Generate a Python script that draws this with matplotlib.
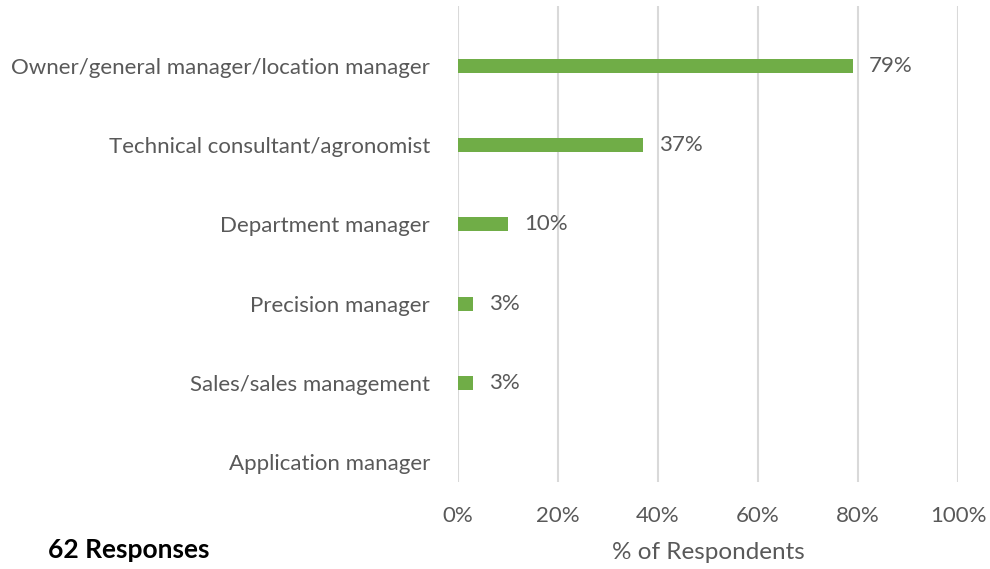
import matplotlib
matplotlib.use("Agg")
import matplotlib.pyplot as plt
from matplotlib.ticker import FuncFormatter

categories = ["Owner/general manager/location manager",
              "Technical consultant/agronomist",
              "Department manager",
              "Precision manager",
              "Sales/sales management",
              "Application manager"]
values = [79, 37, 10, 3, 3, 0]
labels = ["79%", "37%", "10%", "3%", "3%", ""]
xticks = [0, 20, 40, 60, 80, 100]

plt.rcParams['font.family'] = ['Lato', 'DejaVu Sans']
txt = '#595959'
fs = 16

fig = plt.figure(figsize=(9.9, 5.69), dpi=100)
ax = fig.add_axes([458/990, 1-482/569, 500/990, 476/569])
y = list(range(len(categories)))
ax.barh(y, values, height=0.177, color='#70ad47', zorder=3)
for yi, v, lab in zip(y, values, labels):
    if lab:
        ax.text(v + 3.2, yi, lab, va='center', ha='left', fontsize=fs, color=txt)
ax.set_xlim(0, 100)
ax.set_ylim(5.253, -0.758)
ax.set_yticks(y)
ax.set_yticklabels(categories, fontsize=fs, color=txt)
ax.set_xticks(xticks)
ax.xaxis.set_major_formatter(FuncFormatter(lambda v, p: f"{int(v)}%"))
ax.tick_params(axis='x', labelsize=fs, labelcolor=txt, length=0, pad=17)
ax.tick_params(axis='y', length=0, pad=20)
ax.grid(axis='x', color='#d9d9d9', linewidth=1.5, zorder=0)
for s in ax.spines.values():
    s.set_visible(False)
ax.set_xlabel("% of Respondents", fontsize=17.5, color=txt, labelpad=12)
fig.text(48/990, 1-550/569, "62 Responses", fontsize=19, fontweight='bold', color='black', va='center', ha='left')
fig.savefig("out.png", dpi=100)
